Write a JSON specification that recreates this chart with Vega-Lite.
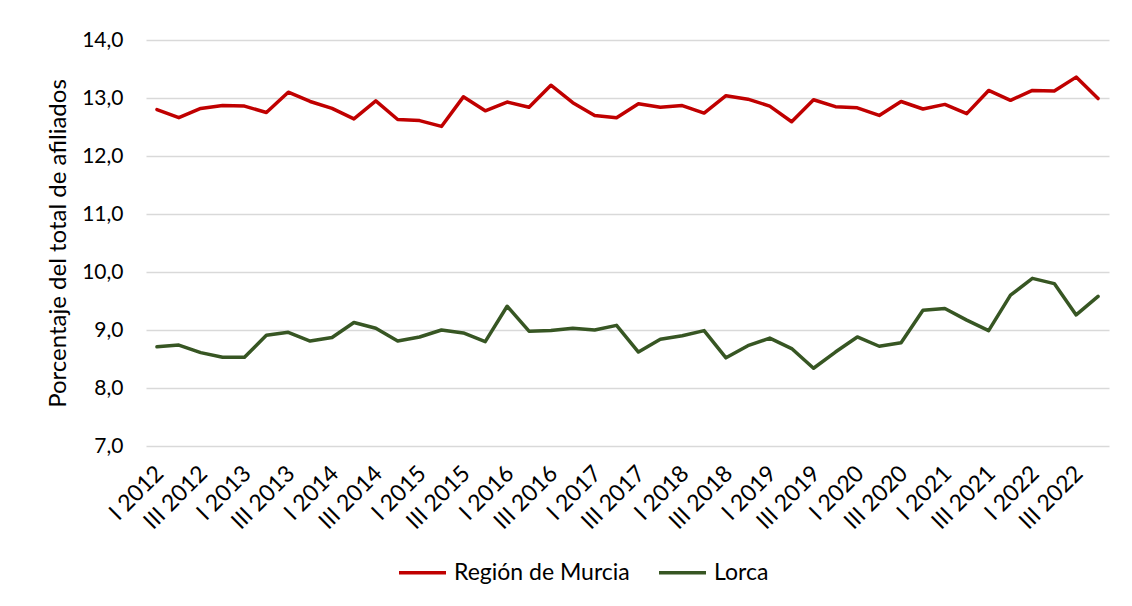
{
  "$schema": "https://vega.github.io/schema/vega-lite/v6.json",
  "width": 963,
  "height": 406,
  "autosize": {"type": "none"},
  "padding": {"left": 146, "top": 40, "right": 23, "bottom": 160},
  "background": "white",
  "config": {"view": {"stroke": null}, "font": "Lato"},
  "data": {"values": [
    {"q":"I 2012","s":"Región de Murcia","v":12.80},{"q":"II 2012","s":"Región de Murcia","v":12.66},{"q":"III 2012","s":"Región de Murcia","v":12.82},{"q":"IV 2012","s":"Región de Murcia","v":12.87},
    {"q":"I 2013","s":"Región de Murcia","v":12.86},{"q":"II 2013","s":"Región de Murcia","v":12.75},{"q":"III 2013","s":"Región de Murcia","v":13.10},{"q":"IV 2013","s":"Región de Murcia","v":12.94},
    {"q":"I 2014","s":"Región de Murcia","v":12.82},{"q":"II 2014","s":"Región de Murcia","v":12.64},{"q":"III 2014","s":"Región de Murcia","v":12.95},{"q":"IV 2014","s":"Región de Murcia","v":12.63},
    {"q":"I 2015","s":"Región de Murcia","v":12.61},{"q":"II 2015","s":"Región de Murcia","v":12.51},{"q":"III 2015","s":"Región de Murcia","v":13.02},{"q":"IV 2015","s":"Región de Murcia","v":12.78},
    {"q":"I 2016","s":"Región de Murcia","v":12.93},{"q":"II 2016","s":"Región de Murcia","v":12.84},{"q":"III 2016","s":"Región de Murcia","v":13.22},{"q":"IV 2016","s":"Región de Murcia","v":12.92},
    {"q":"I 2017","s":"Región de Murcia","v":12.70},{"q":"II 2017","s":"Región de Murcia","v":12.66},{"q":"III 2017","s":"Región de Murcia","v":12.90},{"q":"IV 2017","s":"Región de Murcia","v":12.84},
    {"q":"I 2018","s":"Región de Murcia","v":12.87},{"q":"II 2018","s":"Región de Murcia","v":12.74},{"q":"III 2018","s":"Región de Murcia","v":13.04},{"q":"IV 2018","s":"Región de Murcia","v":12.98},
    {"q":"I 2019","s":"Región de Murcia","v":12.86},{"q":"II 2019","s":"Región de Murcia","v":12.59},{"q":"III 2019","s":"Región de Murcia","v":12.97},{"q":"IV 2019","s":"Región de Murcia","v":12.85},
    {"q":"I 2020","s":"Región de Murcia","v":12.83},{"q":"II 2020","s":"Región de Murcia","v":12.70},{"q":"III 2020","s":"Región de Murcia","v":12.94},{"q":"IV 2020","s":"Región de Murcia","v":12.81},
    {"q":"I 2021","s":"Región de Murcia","v":12.89},{"q":"II 2021","s":"Región de Murcia","v":12.73},{"q":"III 2021","s":"Región de Murcia","v":13.13},{"q":"IV 2021","s":"Región de Murcia","v":12.96},
    {"q":"I 2022","s":"Región de Murcia","v":13.13},{"q":"II 2022","s":"Región de Murcia","v":13.12},{"q":"III 2022","s":"Región de Murcia","v":13.36},{"q":"IV 2022","s":"Región de Murcia","v":12.99},
    {"q":"I 2012","s":"Lorca","v":8.71},{"q":"II 2012","s":"Lorca","v":8.74},{"q":"III 2012","s":"Lorca","v":8.61},{"q":"IV 2012","s":"Lorca","v":8.53},
    {"q":"I 2013","s":"Lorca","v":8.53},{"q":"II 2013","s":"Lorca","v":8.91},{"q":"III 2013","s":"Lorca","v":8.96},{"q":"IV 2013","s":"Lorca","v":8.81},
    {"q":"I 2014","s":"Lorca","v":8.87},{"q":"II 2014","s":"Lorca","v":9.13},{"q":"III 2014","s":"Lorca","v":9.03},{"q":"IV 2014","s":"Lorca","v":8.81},
    {"q":"I 2015","s":"Lorca","v":8.88},{"q":"II 2015","s":"Lorca","v":9.00},{"q":"III 2015","s":"Lorca","v":8.95},{"q":"IV 2015","s":"Lorca","v":8.80},
    {"q":"I 2016","s":"Lorca","v":9.41},{"q":"II 2016","s":"Lorca","v":8.98},{"q":"III 2016","s":"Lorca","v":8.99},{"q":"IV 2016","s":"Lorca","v":9.03},
    {"q":"I 2017","s":"Lorca","v":9.00},{"q":"II 2017","s":"Lorca","v":9.08},{"q":"III 2017","s":"Lorca","v":8.62},{"q":"IV 2017","s":"Lorca","v":8.84},
    {"q":"I 2018","s":"Lorca","v":8.90},{"q":"II 2018","s":"Lorca","v":8.99},{"q":"III 2018","s":"Lorca","v":8.52},{"q":"IV 2018","s":"Lorca","v":8.73},
    {"q":"I 2019","s":"Lorca","v":8.86},{"q":"II 2019","s":"Lorca","v":8.68},{"q":"III 2019","s":"Lorca","v":8.34},{"q":"IV 2019","s":"Lorca","v":8.62},
    {"q":"I 2020","s":"Lorca","v":8.88},{"q":"II 2020","s":"Lorca","v":8.72},{"q":"III 2020","s":"Lorca","v":8.78},{"q":"IV 2020","s":"Lorca","v":9.34},
    {"q":"I 2021","s":"Lorca","v":9.37},{"q":"II 2021","s":"Lorca","v":9.17},{"q":"III 2021","s":"Lorca","v":8.99},{"q":"IV 2021","s":"Lorca","v":9.60},
    {"q":"I 2022","s":"Lorca","v":9.89},{"q":"II 2022","s":"Lorca","v":9.80},{"q":"III 2022","s":"Lorca","v":9.26},{"q":"IV 2022","s":"Lorca","v":9.58}
  ]},
  "mark": {"type": "line", "strokeWidth": 3.5, "strokeJoin": "round", "strokeCap": "round"},
  "encoding": {
    "x": {
      "field": "q", "type": "ordinal", "sort": null,
      "scale": {"type": "point", "padding": 0.5},
      "axis": {
        "values": ["I 2012","III 2012","I 2013","III 2013","I 2014","III 2014","I 2015","III 2015","I 2016","III 2016","I 2017","III 2017","I 2018","III 2018","I 2019","III 2019","I 2020","III 2020","I 2021","III 2021","I 2022","III 2022"],
        "labelAngle": -45, "labelAlign": "right", "labelBaseline": "bottom",
        "labelFontSize": 23, "labelColor": "black", "labelPadding": 32, "labelOffset": 11, "labelLimit": 200,
        "ticks": false, "domain": false, "grid": false, "title": null
      }
    },
    "y": {
      "field": "v", "type": "quantitative",
      "scale": {"domain": [7, 14], "nice": false, "zero": false},
      "axis": {
        "values": [7, 8, 9, 10, 11, 12, 13, 14],
        "labelExpr": "replace(format(datum.value, '.1f'), '.', ',')",
        "labelFontSize": 21, "labelColor": "black", "labelPadding": 23,
        "ticks": false, "domain": false,
        "gridColor": "#d9d9d9", "gridWidth": 1.5,
        "title": "Porcentaje del total de afiliados",
        "titleFontSize": 24, "titleFontWeight": "normal", "titleColor": "black", "titlePadding": 11
      }
    },
    "color": {
      "field": "s", "type": "nominal",
      "scale": {"domain": ["Región de Murcia", "Lorca"], "range": ["#C00000", "#375623"]},
      "legend": {
        "orient": "none", "legendX": 251, "legendY": 507,
        "direction": "horizontal", "title": null,
        "symbolType": "stroke", "symbolStrokeWidth": 3.5, "symbolSize": 2209,
        "labelFontSize": 23, "labelColor": "black", "labelOffset": 6, "labelLimit": 300, "columnPadding": 22
      }
    }
  }
}
